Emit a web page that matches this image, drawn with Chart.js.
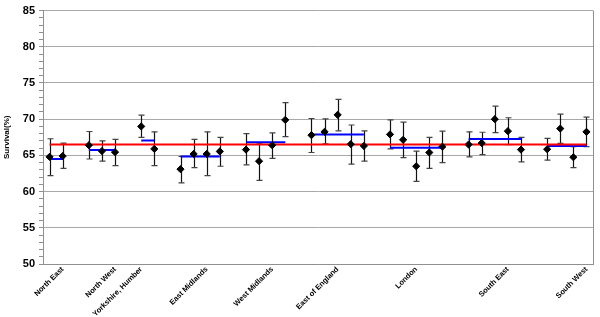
<!DOCTYPE html>
<html>
<head>
<meta charset="utf-8">
<script src="https://cdn.jsdelivr.net/npm/chart.js@4.4.0/dist/chart.umd.min.js"></script>
<style>
  html, body { margin: 0; padding: 0; background: #fff; }
  #wrap { width: 600px; height: 317px; }
</style>
</head>
<body>
<div id="wrap"><canvas id="survivalChart"></canvas></div>
<script>
//-----------------------------------------------------------------------------
// data, grouped by region
//-----------------------------------------------------------------------------
const regions = ['North East', 'North West', 'Yorkshire, Humber', 'East Midlands',
    'West Midlands', 'East of England', 'London', 'South East', 'South West'];

const survival = [
    [64.8, 64.9],
    [66.4, 65.6, 65.45],
    [69.0, 65.9],
    [63.1, 65.2, 65.2, 65.55],
    [65.8, 64.2, 66.4, 69.9],
    [67.8, 68.25, 70.6, 66.55, 66.3],
    [67.9, 67.15, 63.5, 65.4, 66.2],
    [66.5, 66.7, 70.0, 68.35, 65.8],
    [65.85, 68.7, 64.75, 68.25]
];
const upper = [
    [67.3, 66.7],
    [68.3, 67.0, 67.2],
    [70.55, 68.25],
    [64.85, 67.2, 68.25, 67.5],
    [68.0, 66.7, 68.1, 72.3],
    [70.1, 70.05, 72.75, 69.2, 68.4],
    [69.9, 69.6, 65.6, 67.5, 68.35],
    [68.25, 68.2, 71.8, 70.2, 67.5],
    [67.35, 70.7, 66.2, 70.3]
];
const lower = [
    [62.2, 63.2],
    [64.5, 64.2, 63.6],
    [67.5, 63.6],
    [61.2, 63.3, 62.2, 63.5],
    [63.7, 61.55, 64.6, 67.6],
    [65.4, 66.6, 68.4, 63.8, 64.2],
    [65.9, 64.7, 61.4, 63.2, 64.0],
    [64.8, 65.1, 68.15, 66.5, 64.1],
    [64.35, 66.65, 63.3, 66.2]
];
const regionMean = [64.5, 65.75, 67.05, 64.85, 66.8, 67.9, 66.05, 67.25, 66.3];
const nationalMean = 66.5;

// category slot (0..41) that carries each region's name
const labelSlots = [1, 5, 7, 12, 17, 22, 28, 35, 41];
const yMin = 50, yMax = 85, yMajor = 5;

//-----------------------------------------------------------------------------
// one slot per unit, one empty slot between regions
//-----------------------------------------------------------------------------
const slots = [];
let next = 0;
survival.forEach(group => {
    slots.push(group.map((v, i) => next + i));
    next += group.length + 1;
});
const lastSlot = next - 2;

const points = [];
survival.forEach((group, g) => group.forEach((v, i) => points.push({x: slots[g][i], y: v})));

//-----------------------------------------------------------------------------
// error bars and the plot frame on the right
//-----------------------------------------------------------------------------
const errorBars = {
    id: 'errorBars',
    beforeDatasetsDraw(chart) {
        const {ctx} = chart;
        const x = chart.scales.x, y = chart.scales.y;
        ctx.save();
        survival.forEach((group, g) => group.forEach((v, i) => {
            const px = Math.round(x.getPixelForValue(slots[g][i])) + 0.5;
            const top = y.getPixelForValue(upper[g][i]);
            const bot = y.getPixelForValue(lower[g][i]);
            ctx.strokeStyle = '#111';
            ctx.lineWidth = 1.2;
            ctx.beginPath();
            ctx.moveTo(px, top);
            ctx.lineTo(px, bot);
            ctx.stroke();
            ctx.strokeStyle = '#444';
            ctx.lineWidth = 1.2;
            ctx.beginPath();
            ctx.moveTo(px - 3, top);
            ctx.lineTo(px + 3, top);
            ctx.moveTo(px - 3, bot);
            ctx.lineTo(px + 3, bot);
            ctx.stroke();
        }));
        ctx.restore();
    },
    afterDraw(chart) {
        const {ctx, chartArea} = chart;
        ctx.save();
        ctx.strokeStyle = '#909090';
        ctx.lineWidth = 1;
        ctx.beginPath();
        ctx.moveTo(Math.round(chartArea.right) + 0.5, chartArea.top);
        ctx.lineTo(Math.round(chartArea.right) + 0.5, chartArea.bottom);
        ctx.stroke();
        ctx.restore();
    }
};

Chart.defaults.font.family = '"Liberation Sans", Arial, sans-serif';
Chart.defaults.color = '#000';

const regionLines = regionMean.map((m, g) => ({
    type: 'line',
    data: [{x: slots[g][0], y: m}, {x: slots[g][slots[g].length - 1], y: m}],
    borderColor: '#0000ff',
    borderWidth: 2,
    pointRadius: 0,
    order: 2
}));

const ctx = document.getElementById('survivalChart').getContext('2d');
new Chart(ctx, {
    type: 'scatter',
    data: {
        datasets: [
            {
                data: points,
                pointStyle: 'rectRot',
                pointRadius: 3.6,
                backgroundColor: '#000',
                borderColor: '#000',
                borderWidth: 1,
                order: 0
            },
            {
                type: 'line',
                data: [{x: 0, y: nationalMean}, {x: lastSlot, y: nationalMean}],
                borderColor: '#ff0000',
                borderWidth: 2,
                pointRadius: 0,
                order: 1
            },
            ...regionLines
        ]
    },
    options: {
        responsive: true,
        maintainAspectRatio: false,
        animation: false,
        layout: { padding: { top: 9, right: 7, left: 0, bottom: 0 } },
        plugins: {
            legend: { display: false },
            tooltip: { enabled: false }
        },
        scales: {
            x: {
                type: 'linear',
                min: -0.5,
                max: lastSlot + 0.5,
                afterBuildTicks: s => { s.ticks = labelSlots.map(v => ({value: v})); },
                afterFit: s => { s.height = 53; },
                ticks: {
                    autoSkip: false,
                    minRotation: 45,
                    maxRotation: 45,
                    padding: 1,
                    callback: (v, i) => regions[i],
                    font: { size: 7.5, weight: 'bold' }
                },
                grid: { display: false, drawTicks: false },
                border: { color: '#909090' }
            },
            y: {
                min: yMin,
                max: yMax,
                afterFit: s => { s.width = 43; },
                ticks: {
                    stepSize: 1,
                    autoSkip: false,
                    maxTicksLimit: 100,
                    padding: 4,
                    callback: v => v % yMajor === 0 ? v : '',
                    font: { size: 11, weight: 'bold' }
                },
                grid: {
                    color: c => c.tick.value % yMajor === 0 ? '#a8a8a8' : 'rgba(0,0,0,0)',
                    tickColor: '#909090',
                    tickLength: 4
                },
                border: { color: '#909090' },
                title: {
                    display: true,
                    text: 'Survival(%)',
                    font: { size: 8, weight: 'bold' },
                    padding: { top: 2, bottom: 0 }
                }
            }
        }
    },
    plugins: [errorBars]
});
</script>
</body>
</html>
